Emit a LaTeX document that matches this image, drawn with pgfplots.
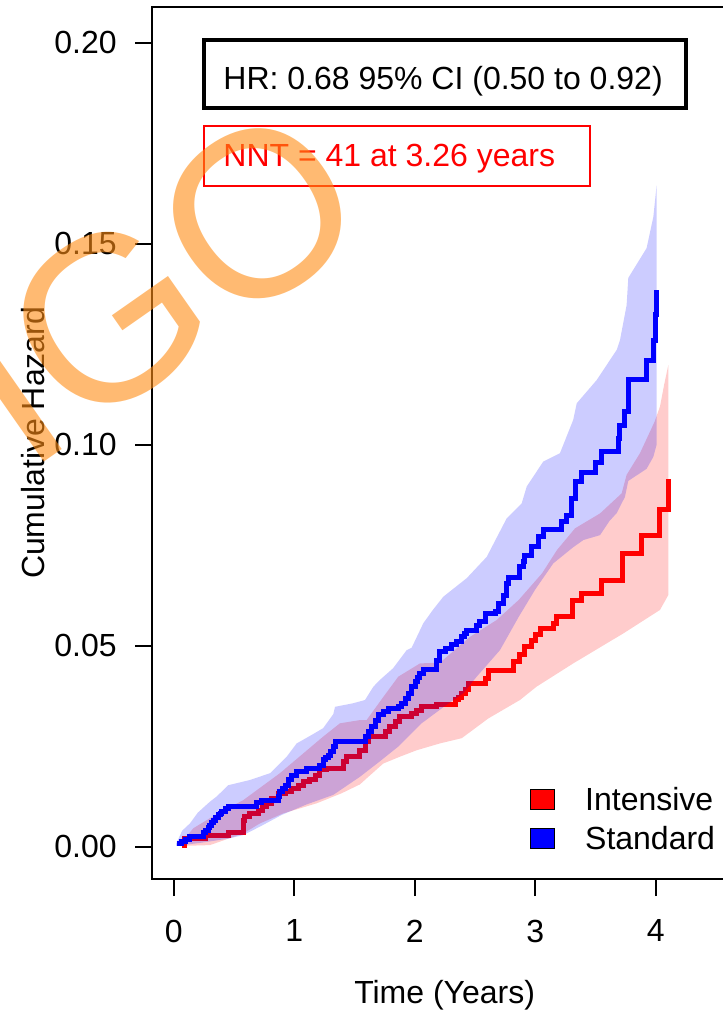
\documentclass[border=0pt]{standalone}
\usepackage{fontspec}
\setmainfont{Liberation Sans}
\usepackage{pgfplots}
\pgfplotsset{compat=1.18}
\definecolor{wm}{RGB}{255,140,20}
\newcommand{\fs}{\fontsize{16pt}{19pt}\selectfont}

\pgfplotstableread{
t v
0.024 0.0007
0.066 0.0012
0.100 0.0018
0.134 0.0025
0.245 0.0035
0.262 0.0040
0.285 0.0048
0.300 0.0054
0.315 0.0060
0.328 0.0066
0.345 0.0072
0.369 0.0079
0.385 0.0083
0.398 0.0087
0.425 0.0094
0.452 0.0101
0.688 0.0110
0.729 0.0116
0.867 0.0124
0.881 0.0137
0.900 0.0145
0.923 0.0153
0.950 0.0166
0.978 0.0178
1.020 0.0187
1.103 0.0195
1.213 0.0203
1.240 0.0216
1.260 0.0222
1.282 0.0228
1.300 0.0236
1.324 0.0249
1.338 0.0261
1.587 0.0274
1.615 0.0286
1.642 0.0299
1.670 0.0315
1.697 0.0328
1.739 0.0336
1.780 0.0344
1.863 0.0348
1.891 0.0357
1.919 0.0369
1.946 0.0382
1.974 0.0398
2.002 0.0410
2.025 0.0420
2.043 0.0431
2.071 0.0440
2.182 0.0464
2.209 0.0485
2.251 0.0493
2.306 0.0502
2.348 0.0510
2.389 0.0522
2.410 0.0530
2.431 0.0539
2.514 0.0551
2.541 0.0560
2.583 0.0580
2.666 0.0585
2.693 0.0605
2.734 0.0626
2.763 0.0655
2.776 0.0670
2.873 0.0697
2.900 0.0710
2.914 0.0725
2.968 0.0746
3.025 0.0771
3.066 0.0790
3.219 0.0808
3.260 0.0825
3.300 0.0867
3.330 0.0908
3.385 0.0930
3.496 0.0955
3.551 0.0984
3.689 0.1016
3.703 0.1047
3.744 0.1082
3.772 0.1163
3.924 0.1209
3.980 0.1260
4.000 0.1324
4.007 0.1385
}\stdline

\pgfplotstableread{
t v
0.065 0.0004
0.093 0.0021
0.259 0.0029
0.452 0.0036
0.577 0.0066
0.590 0.0075
0.632 0.0083
0.701 0.0091
0.740 0.0100
0.771 0.0108
0.812 0.0120
0.867 0.0133
0.923 0.0137
0.978 0.0145
1.033 0.0153
1.075 0.0162
1.130 0.0166
1.172 0.0178
1.213 0.0191
1.269 0.0195
1.407 0.0211
1.435 0.0224
1.545 0.0240
1.587 0.0261
1.614 0.0275
1.753 0.0286
1.794 0.0299
1.836 0.0311
1.877 0.0323
1.974 0.0332
2.016 0.0340
2.057 0.0348
2.180 0.0354
2.334 0.0365
2.361 0.0372
2.390 0.0382
2.417 0.0392
2.444 0.0406
2.583 0.0418
2.610 0.0438
2.817 0.0460
2.873 0.0477
2.914 0.0498
2.970 0.0514
3.000 0.0527
3.040 0.0542
3.150 0.0556
3.180 0.0573
3.312 0.0613
3.385 0.0631
3.551 0.0661
3.728 0.0729
3.883 0.0773
4.035 0.0839
4.104 0.0915
}\intline

\pgfplotstableread{
t v
0.020 0.0008
0.070 0.0040
0.134 0.0058
0.200 0.0085
0.300 0.0112
0.356 0.0125
0.452 0.0153
0.632 0.0166
0.800 0.0183
0.937 0.0224
1.020 0.0257
1.144 0.0278
1.240 0.0295
1.324 0.0330
1.338 0.0348
1.490 0.0357
1.587 0.0365
1.656 0.0398
1.711 0.0415
1.820 0.0444
1.933 0.0489
1.974 0.0495
2.071 0.0556
2.150 0.0589
2.237 0.0622
2.431 0.0668
2.597 0.0721
2.763 0.0817
2.887 0.0854
2.929 0.0896
3.066 0.0958
3.205 0.0979
3.315 0.1062
3.344 0.1103
3.510 0.1161
3.676 0.1236
3.703 0.1260
3.758 0.1347
3.772 0.1415
3.924 0.1489
3.980 0.1567
4.007 0.1645
4.007 0.1000
3.980 0.0970
3.924 0.0940
3.772 0.0910
3.744 0.0870
3.676 0.0830
3.615 0.0810
3.537 0.0775
3.400 0.0763
3.315 0.0745
3.150 0.0705
3.000 0.0640
2.863 0.0572
2.707 0.0489
2.514 0.0423
2.403 0.0382
2.250 0.0350
2.057 0.0307
1.863 0.0249
1.700 0.0210
1.545 0.0174
1.324 0.0129
1.100 0.0105
0.895 0.0079
0.715 0.0050
0.577 0.0029
0.450 0.0020
0.230 0.0010
0.020 0.0002
}\stdband

\pgfplotstableread{
t v
0.065 0.0010
0.162 0.0046
0.350 0.0080
0.577 0.0116
0.881 0.0183
1.240 0.0274
1.379 0.0307
1.545 0.0315
1.600 0.0315
1.740 0.0373
1.863 0.0423
2.043 0.0456
2.210 0.0458
2.458 0.0522
2.680 0.0564
2.863 0.0614
2.983 0.0655
3.056 0.0680
3.180 0.0738
3.330 0.0792
3.537 0.0829
3.717 0.0879
3.758 0.0925
3.869 0.0979
3.990 0.1057
4.035 0.1095
4.070 0.1150
4.104 0.1198
4.104 0.0626
4.035 0.0589
3.733 0.0531
3.315 0.0456
3.010 0.0398
2.873 0.0365
2.610 0.0319
2.390 0.0270
2.209 0.0257
2.016 0.0240
1.877 0.0224
1.739 0.0207
1.600 0.0170
1.545 0.0155
1.393 0.0133
1.186 0.0108
0.909 0.0083
0.715 0.0058
0.577 0.0033
0.300 0.0004
0.065 0.0002
}\intband

\begin{document}
\begin{tikzpicture}
\begin{axis}[
  at={(76.15pt,67.5pt)}, anchor=south west,
  scale only axis, width=290.35pt, height=436.15pt,
  xmin=-0.1784, xmax=4.641, ymin=-0.00803, ymax=0.20896,
  axis line style={line width=0.9pt},
  every tick/.style={black, line width=0.9pt},
  tick align=outside, major tick length=8.5pt, tick pos=left,
  xtick={0,1,2,3,4}, ytick={0,0.05,0.1,0.15,0.2},
  yticklabels={0.00,0.05,0.10,0.15,0.20},
  /pgf/number format/assume math mode=true,
  tick label style={font=\fs},
  xticklabel style={anchor=north, inner sep=0pt, yshift=-11.65pt},
  yticklabel style={anchor=east, inner sep=0pt, xshift=-9.15pt},
  xlabel={Time (Years)}, ylabel={Cumulative Hazard},
  xlabel style={font=\fs, at={(axis description cs:0.50344,-0.1433)}, anchor=base, inner sep=0pt},
  ylabel style={font=\fs, at={(axis description cs:-0.18478,0.5)}, anchor=base, inner sep=0pt},
  legend style={draw=none, fill=none, inner sep=0pt, outer sep=0pt,
    at={(axis cs:2.956,0.01473)}, anchor=north west, font=\fs,
    row sep=6.5pt, column sep=15pt, nodes={inner sep=0pt}},
  legend cell align=left,
  legend image code/.code={\draw[#1, draw=black, line width=0.6pt] (0pt,-4.27pt) rectangle (12pt,5.73pt);},
]
\addlegendimage{fill=red}\addlegendentry{Intensive}
\addlegendimage{fill=blue}\addlegendentry{Standard}
\addplot[draw=none, fill=red, fill opacity=0.2, forget plot] table[x=t,y=v] {\intband} -- cycle;
\addplot[red, line width=2.5pt, const plot, forget plot] table[x=t,y=v] {\intline};
\addplot[draw=none, fill=blue, fill opacity=0.2, forget plot] table[x=t,y=v] {\stdband} -- cycle;
\addplot[blue, line width=2.5pt, const plot, forget plot] table[x=t,y=v] {\stdline};
\end{axis}
\draw[line width=2pt] (102.15pt,453.15pt) rectangle (342.85pt,487pt);
\node[anchor=base west, inner sep=0pt, font=\fs] at (111.5pt,462.25pt) {HR: 0.68 95\% CI (0.50 to 0.92)};
\draw[red, line width=0.9pt] (102.15pt,414.15pt) rectangle (294.9pt,444pt);
\node[anchor=base west, inner sep=0pt, font=\fs, text=red] at (111.5pt,423.65pt) {NNT = 41 at 3.26 years};
\node[rotate=35, text=wm, text opacity=0.6, font=\fontsize{117.5pt}{117.5pt}\selectfont, inner sep=0pt] at (78.2pt,364.5pt) {IGO};
\pgfresetboundingbox
\path[use as bounding box] (0pt,0pt) rectangle (361.5pt,507pt);
\end{tikzpicture}
\end{document}
